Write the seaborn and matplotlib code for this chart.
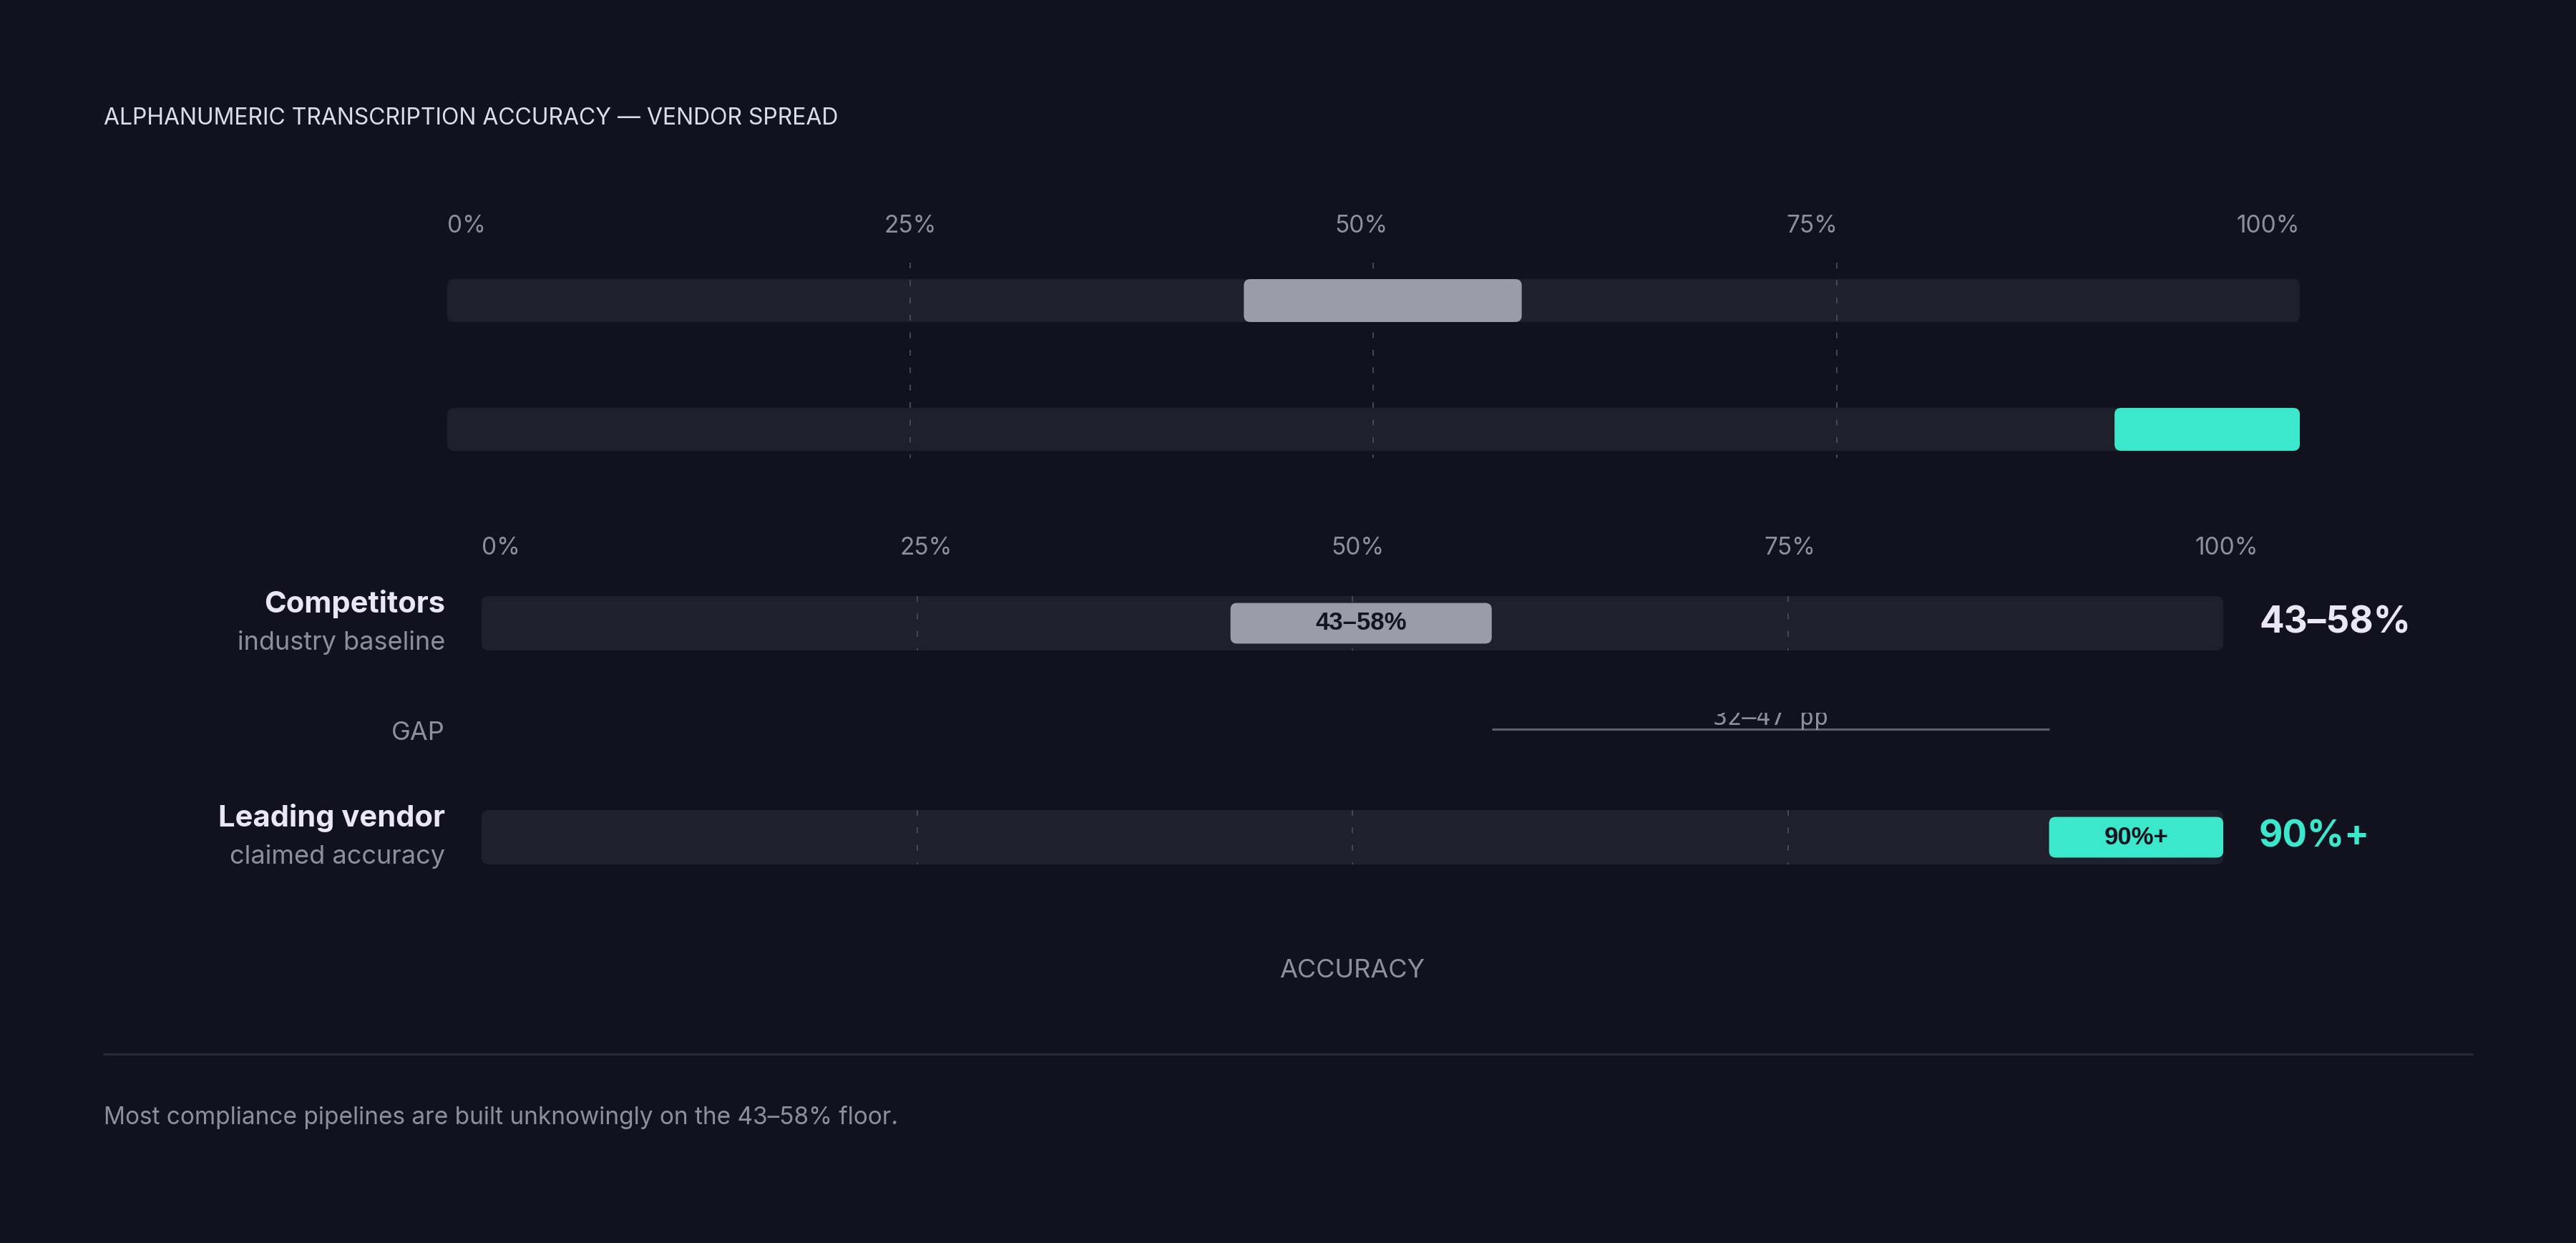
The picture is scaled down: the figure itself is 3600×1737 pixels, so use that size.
import matplotlib
matplotlib.use("Agg")
import matplotlib.pyplot as plt
import pandas as pd
import seaborn as sns
from matplotlib.lines import Line2D
from matplotlib.patches import FancyBboxPatch
from matplotlib.transforms import Bbox, TransformedBbox, ScaledTranslation, blended_transform_factory

# --- data ---
title = "ALPHANUMERIC TRANSCRIPTION ACCURACY — VENDOR SPREAD"
footnote = "Most compliance pipelines are built unknowingly on the 43–58% floor."
vendors = ["Competitors", "Leading vendor"]
vendor_notes = ["industry baseline", "claimed accuracy"]
acc_low = [0.43, 0.90]
acc_high = [0.58, 1.00]
acc_labels = ["43–58%", "90%+"]
ticks = [0.0, 0.25, 0.50, 0.75, 1.0]
tick_labels = ["0%", "25%", "50%", "75%", "100%"]
gap_label = "32–47 pp"
axis_label = "ACCURACY"

# --- colours ---
BG = "#12121e"
TRACK = "#20202c"
GRID = "#4b4b59"
MUTED = "#8f8e9e"
LIGHT = "#e9e7f5"
TEAL = "#3ce8cb"
bar_colors = ["#9c9ba9", TEAL]
value_colors = [LIGHT, TEAL]

W, H, DPI = 3600, 1737, 100

sns.set_theme(style="dark", rc={"figure.facecolor": BG, "axes.facecolor": BG,
                                "savefig.facecolor": BG})
plt.rcParams["font.family"] = ["Inter", "DejaVu Sans"]

fig = plt.figure(figsize=(W / DPI, H / DPI), dpi=DPI)


def add_axes_px(left, top, right, bottom):
    return fig.add_axes([left / W, 1 - bottom / H, (right - left) / W, (bottom - top) / H])


def fig_text(x, y, s, **kw):
    return fig.text(x / W, 1 - y / H, s, **kw)


df = pd.DataFrame({"vendor": vendors, "low": acc_low, "high": acc_high})
df["span"] = df["high"] - df["low"]
df["full"] = 1.0


def round_patches(ax, patches, colors, radius, aspect, zorder):
    # swap seaborn's square bars for rounded ones with the same extent
    for rect, c in zip(patches, colors):
        x, y = rect.get_xy()
        box = FancyBboxPatch((x, y), rect.get_width(), rect.get_height(),
                             boxstyle=f"round,pad=0,rounding_size={radius}",
                             mutation_aspect=aspect, fc=c, ec="none", zorder=zorder)
        ax.add_patch(box)
        rect.remove()


def spread_labels(ax, y_px, x_end):
    # tick labels laid out edge to edge (space-between), like the reference
    trans = blended_transform_factory(ax.transData, fig.transFigure)
    texts = [ax.text(0, 1 - y_px / H, s, transform=trans, ha="left", va="center",
                     fontsize=24, color=MUTED, clip_on=False) for s in tick_labels]
    fig.canvas.draw()
    widths = [t.get_window_extent().width for t in texts]
    x0, x1 = ax.transData.transform([(0, 0), (x_end, 0)])[:, 0]
    gap = (x1 - x0 - sum(widths)) / (len(texts) - 1)
    inv = ax.transData.inverted()
    x = x0
    for t, w in zip(texts, widths):
        t.set_x(inv.transform((x, 0))[0])
        x += w + gap


def draw_panel(left, right, row0, spacing, top_u, bot_u, track_h, bar_h, radius_px):
    top = row0 + top_u * spacing
    bottom = row0 + bot_u * spacing
    ax = add_axes_px(left, top, right, bottom)
    sns.barplot(data=df, x="full", y="vendor", orient="y", color=TRACK,
                width=track_h, errorbar=None, ax=ax)
    n = len(ax.patches)
    sns.barplot(data=df, x="span", y="vendor", orient="y", left=acc_low,
                color=bar_colors[0], width=bar_h, errorbar=None, ax=ax)
    ax.set_xlim(0, 1)
    ax.set_ylim(bot_u, top_u)
    ax.axis("off")
    aspect = (right - left) / spacing
    r = radius_px / (right - left)
    patches = list(ax.patches)
    round_patches(ax, patches[:n], [TRACK] * n, r, aspect, 1)
    round_patches(ax, patches[n:], bar_colors, r * 0.9, aspect, 3)
    return ax


# --- top overview panel ---
ax1 = draw_panel(625, 3214, 420, 180, -0.45, 1.25, 0.333, 0.333, 10)
ax1.vlines(ticks[1:-1], -0.294, 1.222, colors=GRID, lw=1.3,
           linestyles=(0, (4.5, 9)), zorder=2)
spread_labels(ax1, 316, 1.0)

# --- main labelled panel ---
ax2 = draw_panel(673, 3107, 871, 299, -0.4, 1.4, 0.254, 0.19, 10)
for i in range(len(vendors)):
    ax2.vlines(ticks[1:-1], i - 0.127, i + 0.127, colors=GRID, lw=1.3,
               linestyles=(0, (4.5, 9)), zorder=2)
spread_labels(ax2, 766, 1.02)

to_left = ax2.transData + ScaledTranslation(-0.51, 0, fig.dpi_scale_trans)
to_right = ax2.transData + ScaledTranslation(0.5, 0, fig.dpi_scale_trans)
for i, (name, note) in enumerate(zip(vendors, vendor_notes)):
    ax2.text(0, i - 0.09, name, transform=to_left, ha="right", va="center",
             fontsize=30, fontweight="bold", color=LIGHT)
    ax2.text(0, i + 0.09, note, transform=to_left, ha="right", va="center",
             fontsize=26, color=MUTED)
    ax2.text((acc_low[i] + acc_high[i]) / 2, i, acc_labels[i], ha="center", va="center",
             fontsize=25, fontweight="bold", color="#15151f",
             family=["Liberation Sans", "DejaVu Sans"], zorder=4)
    ax2.text(1.0, i, acc_labels[i], transform=to_right, ha="left", va="center",
             fontsize=37, fontweight="bold", color=value_colors[i])

# gap between the competitor ceiling and the leader floor
ax2.hlines(0.495, acc_high[0], acc_low[1], colors="#5f5e6c", lw=2.2, zorder=2)
gap_txt = ax2.text((acc_high[0] + acc_low[1]) / 2, 0.475, gap_label, ha="center",
                   va="baseline", fontsize=24, color=MUTED,
                   family=["DejaVu Sans Mono"], zorder=3)
gap_txt.set_clip_box(TransformedBbox(Bbox.from_extents(0, 0, 1, 1 - 996 / H), fig.transFigure))
gap_txt.set_clip_on(True)
fig_text(622, 1024, "GAP", ha="right", va="center", fontsize=26, color=MUTED)

fig_text(1890, 1357, axis_label, ha="center", va="center", fontsize=26, color=MUTED)

# title, divider, footnote
fig_text(145, 166, title, ha="left", va="center", fontsize=23, color="#dddcea")
fig.add_artist(Line2D([145 / W, 3455 / W], [1 - 1473 / H] * 2, color="#2a2a36", lw=2.2))
fig_text(145, 1562, footnote, ha="left", va="center", fontsize=24, color=MUTED)

fig.savefig("out.png", dpi=DPI, facecolor=BG)
